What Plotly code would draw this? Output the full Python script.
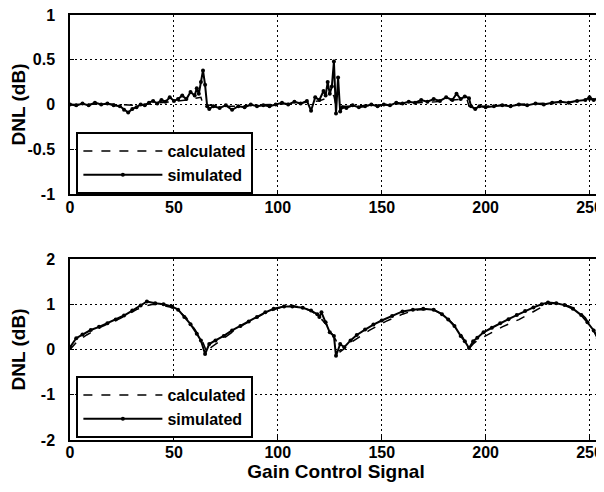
import plotly.graph_objects as go

# ---------------- data ----------------
top_sim_x = [0, 3, 6, 9, 12, 15, 18, 21, 24, 26, 28, 30, 32, 34, 36, 38, 40, 42, 44, 46, 48, 50,
             52, 54, 56, 58, 60, 61, 62, 63, 64, 65, 66, 67, 69, 72, 75, 78, 81, 84, 87, 90, 93,
             96, 99, 102, 105, 108, 111, 114, 116, 118, 120, 122, 123, 124, 125, 126, 127, 128,
             129, 130, 131, 133, 136, 139, 142, 145, 148, 151, 154, 157, 160, 163, 166, 169, 172,
             175, 178, 181, 184, 186, 188, 190, 192, 193, 195, 197, 200, 204, 208, 212, 216, 220,
             224, 228, 232, 236, 240, 244, 248, 250, 252, 254, 256]
top_sim_y = [0.0, -0.01, 0.01, -0.01, 0.02, 0.0, 0.01, -0.01, -0.02, -0.06, -0.09, -0.05, -0.03,
             0.0, -0.01, 0.02, 0.04, 0.01, 0.05, 0.03, 0.08, 0.04, 0.06, 0.1, 0.06, 0.14, 0.1, 0.18,
             0.12, 0.25, 0.38, 0.22, -0.02, -0.05, -0.02, -0.04, -0.01, -0.06, -0.02, -0.03, 0.0,
             -0.02, -0.01, -0.02, 0.0, 0.02, 0.0, 0.03, 0.01, 0.04, -0.07, 0.08, 0.05, 0.15, 0.1,
             0.25, 0.12, 0.2, 0.48, -0.1, 0.3, -0.08, -0.03, -0.04, -0.01, -0.03, -0.02, 0.0, -0.02,
             0.0, -0.01, 0.02, 0.01, 0.03, 0.02, 0.05, 0.03, 0.06, 0.04, 0.08, 0.05, 0.12, 0.06,
             0.09, 0.07, -0.02, -0.05, -0.02, -0.03, -0.02, -0.01, -0.02, 0.0, -0.01, 0.01, 0.0,
             0.02, 0.03, 0.02, 0.04, 0.05, 0.08, 0.05, 0.07, 0.08]

top_calc_x = [0, 8, 16, 24, 32, 40, 48, 56, 63, 64, 72, 80, 88, 96, 104, 112, 120, 127, 128, 136,
              144, 152, 160, 168, 176, 184, 191, 192, 200, 208, 216, 224, 232, 240, 248, 256]
top_calc_y = [0.0, 0.0, 0.01, 0.0, -0.01, 0.01, 0.03, 0.05, 0.08, 0.0, -0.02, -0.02, -0.01, 0.0,
              0.01, 0.02, 0.04, 0.1, -0.02, -0.02, -0.01, 0.0, 0.01, 0.02, 0.03, 0.05, 0.06,
              -0.02, -0.02, -0.01, 0.0, 0.01, 0.02, 0.03, 0.05, 0.06]

bot_sim_x = [0, 3, 6, 10, 14, 18, 22, 26, 30, 34, 37, 41, 45, 49, 52, 55, 58, 61, 63, 65, 67, 70,
             74, 78, 82, 86, 90, 94, 98, 103, 107, 112, 116, 119, 120, 121, 123, 125, 127, 128,
             130, 132, 135, 138, 142, 146, 150, 155, 160, 165, 170, 175, 179, 182, 185, 188, 190,
             192, 194, 196, 199, 203, 207, 211, 215, 219, 223, 227, 230, 234, 238, 242, 246, 249,
             252, 254, 256]
bot_sim_y = [0.05, 0.25, 0.33, 0.43, 0.5, 0.58, 0.66, 0.75, 0.86, 0.97, 1.06, 1.02, 1.0, 0.95,
             0.88, 0.72, 0.56, 0.35, 0.2, -0.1, 0.12, 0.2, 0.3, 0.42, 0.52, 0.62, 0.72, 0.82, 0.9,
             0.95, 0.95, 0.92, 0.86, 0.78, 0.72, 0.82, 0.6, 0.38, 0.3, -0.14, 0.12, 0.05, 0.2,
             0.32, 0.44, 0.55, 0.64, 0.74, 0.84, 0.88, 0.9, 0.88, 0.78, 0.66, 0.52, 0.3, 0.18,
             0.03, 0.18, 0.26, 0.38, 0.48, 0.58, 0.67, 0.76, 0.85, 0.93, 1.0, 1.04, 1.02, 0.98,
             0.9, 0.76, 0.6, 0.42, 0.25, 0.05]

bot_calc_x = [0, 4, 8, 12, 16, 20, 24, 28, 32, 36, 40, 44, 48, 52, 56, 60, 64, 66, 68, 72, 76,
              80, 84, 88, 92, 96, 100, 104, 108, 112, 116, 120, 124, 128, 130, 132, 136, 140, 144,
              148, 152, 156, 160, 164, 168, 172, 176, 180, 184, 188, 192, 194, 196, 200, 204, 208,
              212, 216, 220, 224, 228, 232, 236, 240, 244, 248, 252, 256]
bot_calc_y = [0.0, 0.2, 0.32, 0.42, 0.52, 0.6, 0.68, 0.78, 0.88, 0.96, 1.0, 0.98, 0.94, 0.86,
              0.7, 0.45, 0.15, -0.08, 0.05, 0.18, 0.32, 0.45, 0.56, 0.66, 0.76, 0.84, 0.91, 0.95,
              0.96, 0.92, 0.85, 0.72, 0.52, 0.2, -0.05, 0.02, 0.18, 0.3, 0.42, 0.52, 0.62, 0.7,
              0.78, 0.84, 0.88, 0.88, 0.85, 0.76, 0.58, 0.35, 0.02, 0.12, 0.2, 0.3, 0.4, 0.5,
              0.58, 0.66, 0.76, 0.86, 0.96, 1.02, 1.0, 0.96, 0.88, 0.7, 0.42, 0.02]

x_ticks = [0, 50, 100, 150, 200, 250]
top_y_ticks = [-1, -0.5, 0, 0.5, 1]
top_y_text = ["-1", "-0.5", "0", "0.5", "1"]
bot_y_ticks = [-2, -1, 0, 1, 2]
bot_y_text = ["-2", "-1", "0", "1", "2"]

FONT = "Arial, 'Liberation Sans', sans-serif"
TICKFONT = dict(family=FONT, size=16, color="black", weight="bold")
TITLEFONT = dict(family=FONT, size=19, color="black", weight="bold")
LEGFONT = dict(family=FONT, size=16, color="black", weight="bold")

fig = go.Figure()

fig.add_trace(go.Scatter(x=top_calc_x, y=top_calc_y, mode="lines", name="calculated",
                         line=dict(color="black", width=1.5, dash="dash"),
                         xaxis="x", yaxis="y", legend="legend"))
fig.add_trace(go.Scatter(x=top_sim_x, y=top_sim_y, mode="lines+markers", name="simulated",
                         line=dict(color="black", width=2),
                         marker=dict(color="black", size=4),
                         xaxis="x", yaxis="y", legend="legend"))
fig.add_trace(go.Scatter(x=bot_calc_x, y=bot_calc_y, mode="lines", name="calculated",
                         line=dict(color="black", width=1.5, dash="dash"),
                         xaxis="x2", yaxis="y2", legend="legend2"))
fig.add_trace(go.Scatter(x=bot_sim_x, y=bot_sim_y, mode="lines+markers", name="simulated",
                         line=dict(color="black", width=2),
                         marker=dict(color="black", size=4),
                         xaxis="x2", yaxis="y2", legend="legend2"))

axis_common = dict(showline=True, linecolor="black", linewidth=1.5, mirror=True,
                   showgrid=True, gridcolor="black", gridwidth=1.2, griddash="2px,3px",
                   zeroline=False, ticks="inside", ticklen=4, tickcolor="black",
                   automargin=False, ticklabeloverflow="allow", tickfont=TICKFONT)

# the page body adds an 8 px offset, so the figure is sized to fit inside the window
fig.update_layout(
    width=596, height=476,
    paper_bgcolor="white", plot_bgcolor="white",
    margin=dict(l=62, r=2, t=7, b=44),
    font=dict(family=FONT, color="black"),
    xaxis=dict(domain=[0, 1], range=[0, 256], tickvals=x_ticks, anchor="y",
               ticklabelstandoff=-2, **axis_common),
    yaxis=dict(domain=[0.579, 1], range=[-1, 1], tickvals=top_y_ticks, ticktext=top_y_text,
               anchor="x", ticklabelstandoff=10,
               title=dict(text="DNL (dB)", font=TITLEFONT, standoff=0),
               **axis_common),
    xaxis2=dict(domain=[0, 1], range=[0, 256], tickvals=x_ticks, anchor="y2",
                ticklabelstandoff=-3,
                title=dict(text="Gain Control Signal", font=TITLEFONT, standoff=0),
                **axis_common),
    yaxis2=dict(domain=[0, 0.426], range=[-2, 2], tickvals=bot_y_ticks, ticktext=bot_y_text,
                anchor="x2", ticklabelstandoff=10,
                title=dict(text="DNL (dB)", font=TITLEFONT, standoff=10),
                **axis_common),
    legend=dict(x=0.012, y=0.7247, xanchor="left", yanchor="top",
                bgcolor="white", bordercolor="black", borderwidth=2,
                font=LEGFONT, tracegroupgap=0, itemwidth=79),
    legend2=dict(x=0.012, y=0.1506, xanchor="left", yanchor="top",
                 bgcolor="white", bordercolor="black", borderwidth=2,
                 font=LEGFONT, tracegroupgap=0, itemwidth=79),
)

fig.write_html("out.html")
